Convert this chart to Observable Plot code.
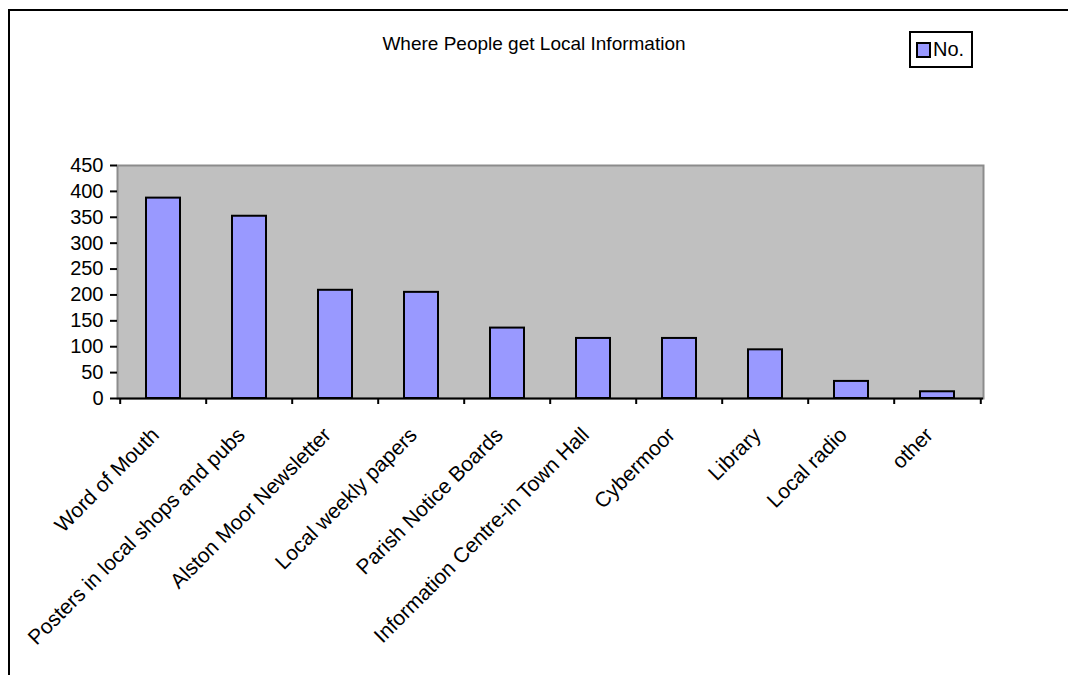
<!DOCTYPE html>
<html>
<head>
<meta charset="utf-8">
<script src="https://cdn.jsdelivr.net/npm/d3@7"></script>
<script src="https://cdn.jsdelivr.net/npm/@observablehq/plot@0.6"></script>
<style>
  html, body { margin: 0; padding: 0; background: #fff; overflow: hidden; }
  #wrap { position: relative; width: 1068px; height: 675px; overflow: hidden;
          font-family: "Liberation Sans", Arial, sans-serif; color: #000; }
  #border { position: absolute; left: 8px; top: 9px; width: 1200px; height: 800px;
            border: 2px solid #000; box-sizing: border-box; }
  #chart { position: absolute; left: 0; top: 0; }
  #title { position: absolute; left: 0; width: 1068px; top: 33px; text-align: center;
           font-size: 19px; }
  #legend { position: absolute; left: 909px; top: 31px; width: 64px; height: 37px;
            box-sizing: border-box; border: 2px solid #000; background: #fff;
            font-size: 20px; display: flex; align-items: center; padding-left: 5px; }
  #legend .swatch { display: inline-block; width: 11px; height: 12px; background: #9999ff;
                    border: 2px solid #000; margin-right: 2px; }
</style>
</head>
<body>
<div id="wrap">
  <div id="border"></div>
  <div id="chart"></div>
  <div id="title">Where People get Local Information</div>
  <div id="legend"><span class="swatch"></span>No.</div>
</div>
<script>
// Sources of local information and the number of people naming each
const categories = [
  "Word of Mouth",
  "Posters in local shops and pubs",
  "Alston Moor Newsletter",
  "Local weekly papers",
  "Parish Notice Boards",
  "Information Centre-in Town Hall",
  "Cybermoor",
  "Library",
  "Local radio",
  "other"
];
const counts = [387, 352, 209, 205, 136, 116, 116, 94, 33, 13];
const yTicks = [0, 50, 100, 150, 200, 250, 300, 350, 400, 450];

const data = categories.map((source, i) => ({source, count: counts[i]}));

const width = 1068, height = 675;
const marginLeft = 117, marginRight = 85, marginTop = 165, marginBottom = 277;
// width of one category slot, used to put the x ticks between the bars
const step = (width - marginLeft - marginRight) / categories.length;

const chart = Plot.plot({
  width, height, marginLeft, marginRight, marginTop, marginBottom,
  style: {fontFamily: "'Liberation Sans', Arial, sans-serif", fontSize: "20px",
          background: "transparent", color: "#000"},
  x: {domain: categories, paddingInner: 0.607, paddingOuter: 0.3035, label: null},
  y: {domain: [0, 450], label: null},
  marks: [
    Plot.frame({fill: "#c0c0c0", stroke: "#8c8c8c", strokeWidth: 2}),
    Plot.barY(data, {x: "source", y: "count", fill: "#9999ff", stroke: "#000", strokeWidth: 2}),
    Plot.ruleY([0], {stroke: "#000", strokeWidth: 2}),
    Plot.axisY({ticks: yTicks, tickSize: 7, tickPadding: 7, line: true, strokeWidth: 2,
                stroke: "#000", fontSize: 20, label: null}),
    Plot.axisX({tickSize: 6, tickFormat: () => "", dx: -step / 2, strokeWidth: 2, label: null}),
    Plot.axisX([categories[categories.length - 1]],
               {tickSize: 6, tickFormat: () => "", dx: step / 2, strokeWidth: 2, label: null}),
    Plot.axisX({tickSize: 0, tickRotate: -45, tickPadding: 33, dx: -8, fontSize: 21, label: null})
  ]
});
document.getElementById("chart").appendChild(chart);
</script>
</body>
</html>
